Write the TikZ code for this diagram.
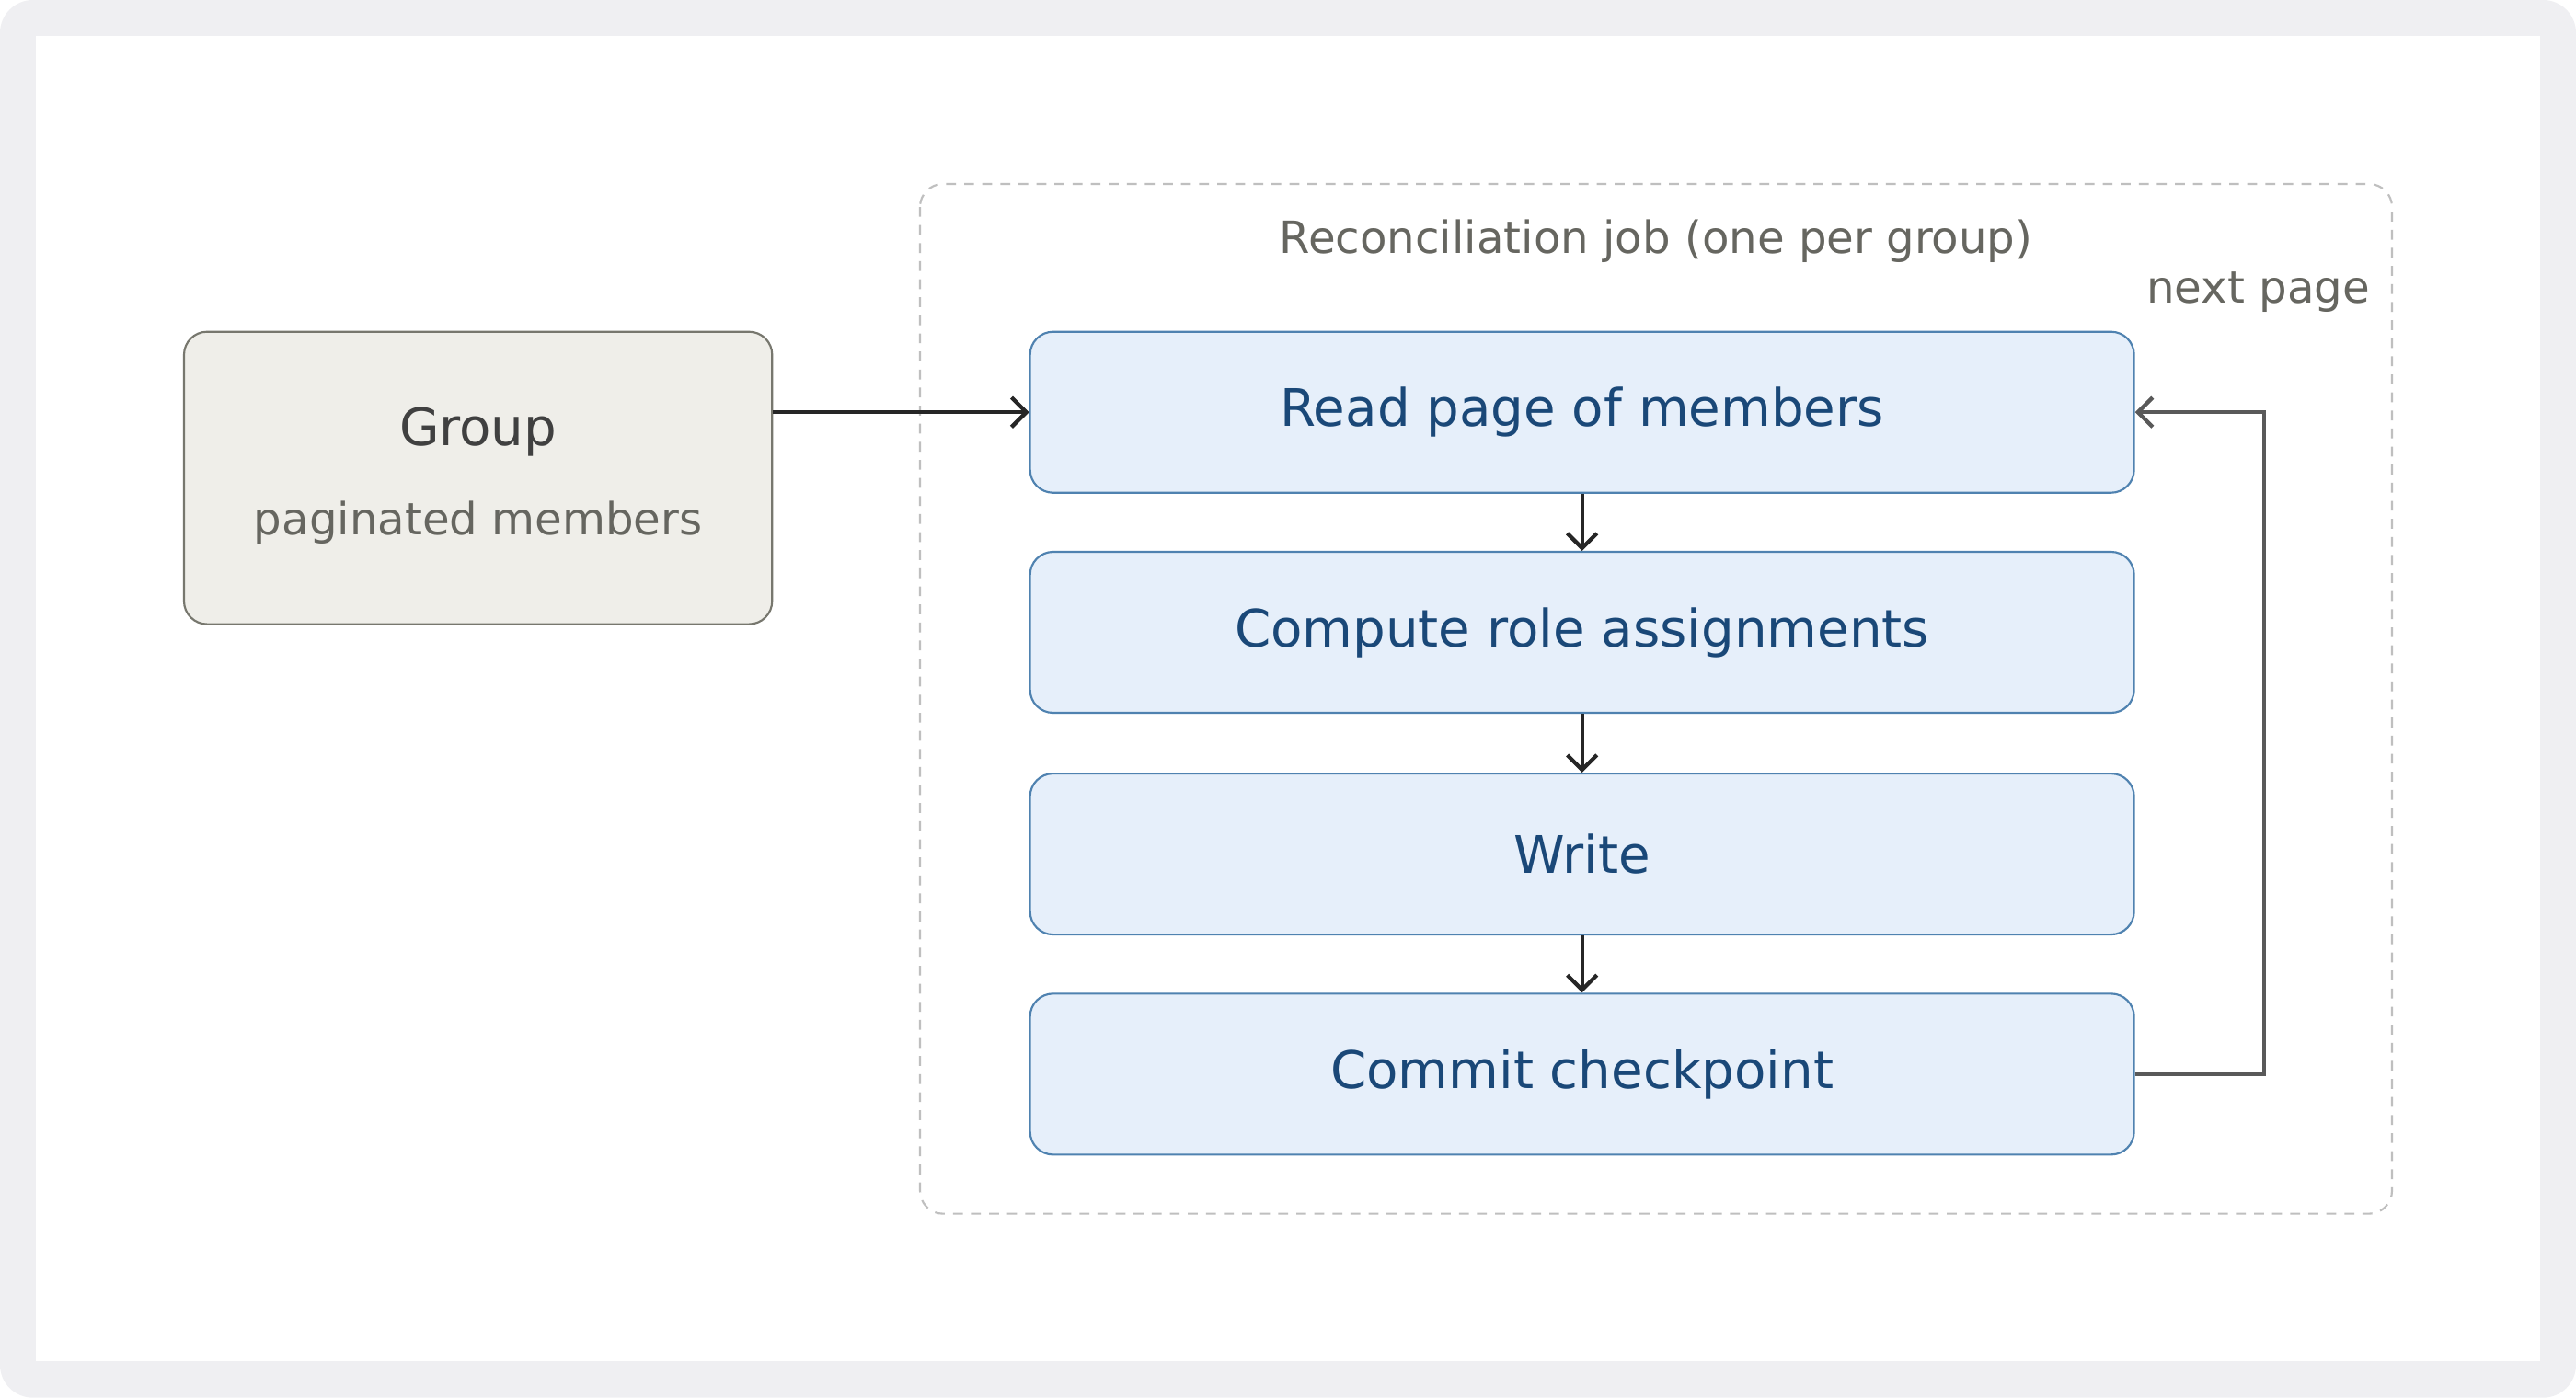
\documentclass[tikz,border=0pt]{standalone}
\usepackage{fontspec}
\setmainfont{DejaVu Sans}
\usetikzlibrary{arrows.meta}
\definecolor{frame}{HTML}{EFEFF2}
\definecolor{gfill}{HTML}{EFEEE9}
\definecolor{gline}{HTML}{77776E}
\definecolor{bfill}{HTML}{E6EFFA}
\definecolor{bline}{HTML}{4F82B0}
\definecolor{btext}{HTML}{1A4878}
\definecolor{gtext}{HTML}{666660}
\begin{document}
\begin{tikzpicture}[x=1pt,y=-1pt,
  stepbox/.style={draw=bline,fill=bfill,rounded corners=14pt,line width=1.2pt,minimum width=672pt,minimum height=98pt,text=btext,font=\fontsize{31.5}{36}\selectfont},
  arr/.style={line width=2.4pt,draw=black!85,-{Straight Barb[length=9pt,width=18pt,line width=2.4pt]}}]
\useasboundingbox (0,0) rectangle (1568,851);
\fill[frame,rounded corners=20pt] (0,0) rectangle (1568,851);
\fill[white] (22,22) rectangle (1546,829);
\draw[gray!50,line width=1.2pt,dash pattern=on 6pt off 5pt,rounded corners=14pt] (560,112) rectangle (1456,739);
\node[text=gtext,font=\fontsize{27}{31}\selectfont] (title) at (1008,147) {Reconciliation job (one per group)};
\node[text=gtext,font=\fontsize{27}{31}\selectfont,anchor=east] (np) at (1446,178) {next page};
\node[draw=gline,fill=gfill,rounded corners=14pt,line width=1.2pt,minimum width=358pt,minimum height=178pt] (group) at (291,291) {};
\node[text=black!75,font=\fontsize{31.5}{36}\selectfont] (gt) at (291,263) {Group};
\node[text=gtext,font=\fontsize{27}{31}\selectfont] (gs) at (291,318) {paginated members};
\node[stepbox] (read) at (963,251) {Read page of members};
\node[stepbox] (comp) at (963,385) {Compute role assignments};
\node[stepbox] (write) at (963,520) {Write};
\node[stepbox] (commit) at (963,654) {Commit checkpoint};
\draw[arr] (group.east|-read.west) -- (read.west);
\draw[arr] (read.south) -- (comp.north);
\draw[arr] (comp.south) -- (write.north);
\draw[arr] (write.south) -- (commit.north);
\draw[arr,draw=black!65] (commit.east) -- (1378,654) -- (1378,251) -- (read.east);
\end{tikzpicture}
\end{document}
